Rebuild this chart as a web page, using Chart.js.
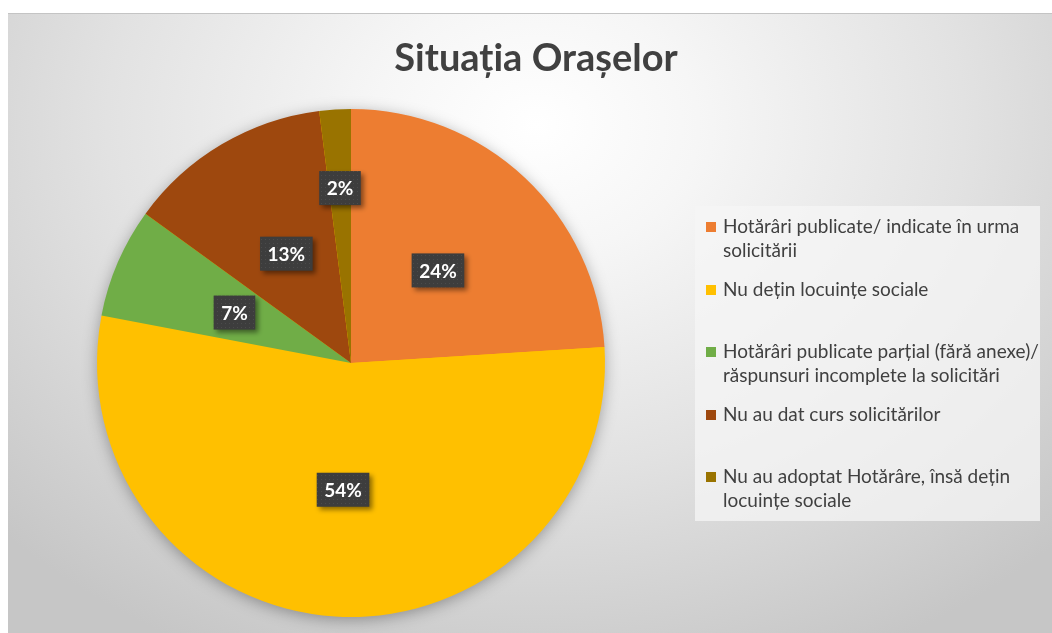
<!DOCTYPE html>
<html lang="ro">
<head>
  <meta charset="UTF-8">
  <title>Situația Orașelor</title>
  <style>
    html, body {
      margin: 0;
      padding: 0;
      width: 1052px;
      height: 633px;
      overflow: hidden;
      background: #ffffff;
      font-family: Lato, "Open Sans", sans-serif;
    }
    .frame {
      position: absolute;
      left: 8px;
      top: 13px;
      width: 1056px;
      height: 620px;
      border-top: 1px solid #c4c4c4;
      box-sizing: border-box;
      background: radial-gradient(ellipse 70% 95% at 50% 18%, #ffffff 0%, #f6f6f6 22%, #e2e2e2 58%, #d2d2d2 82%, #c6c6c6 100%);
    }
    #chartBox {
      position: absolute;
      left: 0;
      top: 0;
      width: 1056px;
      height: 620px;
    }
    .legend {
      position: absolute;
      left: 687px;
      top: 192px;
      width: 345px;
      height: 315px;
      background: rgba(246, 246, 246, 0.75);
    }
    .legend .item {
      position: absolute;
      left: 0;
      font-size: 19px;
      line-height: 24px;
      color: #404040;
      white-space: nowrap;
    }
    .legend .sw {
      position: absolute;
      left: 11px;
      top: 8px;
      width: 10px;
      height: 10px;
    }
    .legend .txt {
      position: absolute;
      left: 28px;
      top: 0;
    }
  </style>
  <script src="https://cdn.jsdelivr.net/npm/chart.js"></script>
</head>
<body>
  <div class="frame">
    <div id="chartBox"><canvas id="pieChart"></canvas></div>
    <div class="legend" id="legend"></div>
  </div>
  <script>
    // data
    const chartTitle = 'Situația Orașelor';
    const labels = [
      ['Hotărâri publicate/ indicate în urma', 'solicitării'],
      ['Nu dețin locuințe sociale'],
      ['Hotărâri publicate parțial (fără anexe)/', 'răspunsuri incomplete la solicitări'],
      ['Nu au dat curs solicitărilor'],
      ['Nu au adoptat Hotărâre, însă dețin', 'locuințe sociale']
    ];
    const values = [24, 54, 7, 13, 2];
    const colors = ['#ED7D31', '#FFC000', '#70AD47', '#9E480E', '#997300'];
    // how far out (fraction of radius) each data label sits
    const labelDist = [0.5, 0.5, 0.5, 0.5, 0.69];

    // small dotted pattern for the label boxes
    function makePattern(ctx) {
      const c = document.createElement('canvas');
      c.width = 4; c.height = 4;
      const p = c.getContext('2d');
      p.fillStyle = '#3d3d3d';
      p.fillRect(0, 0, 4, 4);
      p.fillStyle = '#4b4b4b';
      p.fillRect(1, 1, 1, 1);
      return ctx.createPattern(c, 'repeat');
    }

    // title centred on the whole frame, not on the pie area
    const frameTitle = {
      id: 'frameTitle',
      afterDraw(chart) {
        const ctx = chart.ctx;
        ctx.save();
        ctx.font = 'bold 38px Lato, "Open Sans", sans-serif';
        ctx.fillStyle = '#404040';
        ctx.textAlign = 'center';
        ctx.textBaseline = 'alphabetic';
        ctx.fillText(chartTitle, chart.width / 2, 57);
        ctx.restore();
      }
    };

    const pieShadow = {
      id: 'pieShadow',
      beforeDatasetsDraw(chart) {
        const arc = chart.getDatasetMeta(0).data[0];
        if (!arc) return;
        const ctx = chart.ctx;
        ctx.save();
        ctx.shadowColor = 'rgba(0,0,0,0.35)';
        ctx.shadowBlur = 16;
        ctx.shadowOffsetY = 3;
        ctx.fillStyle = '#FFC000';
        ctx.beginPath();
        ctx.arc(arc.x, arc.y, arc.outerRadius - 1, 0, Math.PI * 2);
        ctx.fill();
        ctx.restore();
      }
    };

    const boxLabels = {
      id: 'boxLabels',
      afterDatasetsDraw(chart) {
        const ctx = chart.ctx;
        const meta = chart.getDatasetMeta(0);
        const total = values.reduce((a, b) => a + b, 0);
        const pattern = makePattern(ctx);
        ctx.save();
        ctx.font = 'bold 19px Lato, "Open Sans", sans-serif';
        ctx.textAlign = 'center';
        ctx.textBaseline = 'middle';
        meta.data.forEach((arc, i) => {
          const mid = (arc.startAngle + arc.endAngle) / 2;
          const r = arc.outerRadius * labelDist[i];
          const x = arc.x + Math.cos(mid) * r;
          const y = arc.y + Math.sin(mid) * r;
          const txt = Math.round(values[i] / total * 100) + '%';
          const w = ctx.measureText(txt).width + 15;
          const h = 34;
          ctx.save();
          ctx.shadowColor = 'rgba(0,0,0,0.45)';
          ctx.shadowBlur = 5;
          ctx.shadowOffsetX = 3;
          ctx.shadowOffsetY = 3;
          ctx.fillStyle = pattern;
          ctx.fillRect(x - w / 2, y - h / 2, w, h);
          ctx.restore();
          ctx.fillStyle = '#ffffff';
          ctx.fillText(txt, x, y + 1);
        });
        ctx.restore();
      }
    };

    new Chart(document.getElementById('pieChart'), {
      type: 'pie',
      data: {
        labels: labels,
        datasets: [{
          data: values,
          backgroundColor: colors,
          borderWidth: 0
        }]
      },
      options: {
        responsive: true,
        maintainAspectRatio: false,
        animation: false,
        layout: { padding: { left: 89, right: 459, top: 95, bottom: 17 } },
        plugins: {
          legend: { display: false },
          tooltip: { enabled: false },
          title: { display: false }
        }
      },
      plugins: [pieShadow, boxLabels, frameTitle]
    });

    // legend built from the same arrays
    const legend = document.getElementById('legend');
    labels.forEach((lab, i) => {
      const item = document.createElement('div');
      item.className = 'item';
      item.style.top = (8 + i * 62.5) + 'px';
      const sw = document.createElement('span');
      sw.className = 'sw';
      sw.style.background = colors[i];
      const t = document.createElement('span');
      t.className = 'txt';
      t.innerHTML = lab.join('<br>');
      item.appendChild(sw);
      item.appendChild(t);
      legend.appendChild(item);
    });
  </script>
</body>
</html>
